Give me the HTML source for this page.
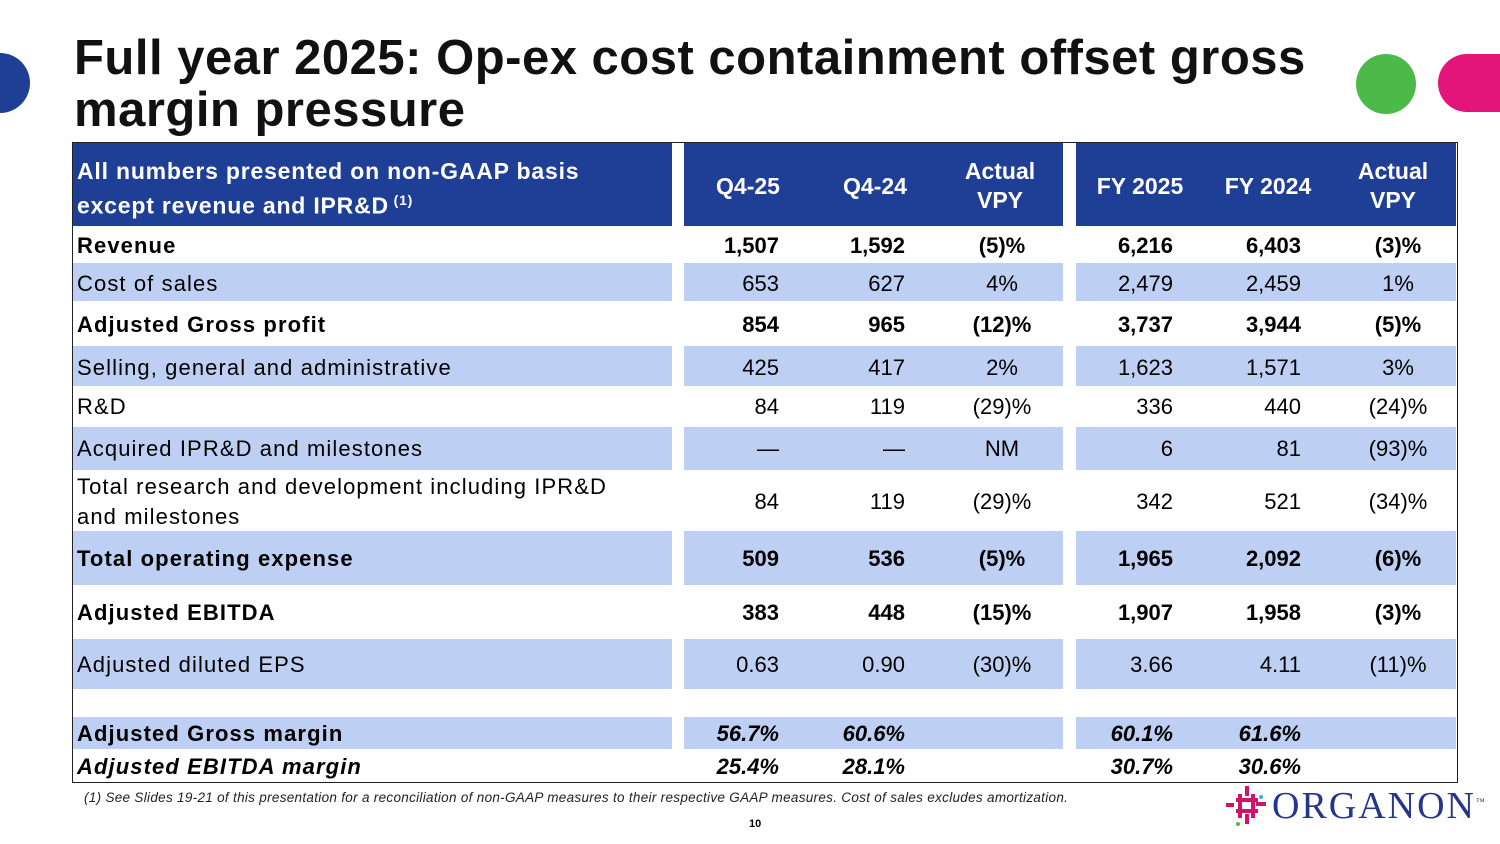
<!DOCTYPE html>
<html><head><meta charset="utf-8"><style>
body{margin:0;width:1500px;height:844px;background:#fff;position:relative;overflow:hidden;font-family:"Liberation Sans",Arial,sans-serif;color:#000}
.a{position:absolute}
.title{left:74px;top:32px;font-size:49px;font-weight:bold;line-height:52px;color:#111;letter-spacing:0.5px;white-space:nowrap}
.band{position:absolute;background:#bdd0f3}
.hdr{position:absolute;background:#1f3f96;top:143px;height:83px}
.h{position:absolute;color:#fff;font-weight:bold;font-size:23px;text-align:center;line-height:29px}
.c{position:absolute;font-size:22px;line-height:26px;white-space:nowrap;transform:translateY(-50%)}
.lbl{letter-spacing:1.1px}
.r{text-align:right}
.m{text-align:center;width:120px}
.b{font-weight:bold}
.i{font-style:italic;font-weight:bold}
</style></head><body>
<div class="a" style="left:-30px;top:53px;width:60px;height:60px;border-radius:50%;background:#1f3f96"></div>
<div class="a" style="left:1356px;top:54px;width:60px;height:60px;border-radius:50%;background:#4cba48"></div>
<div class="a" style="left:1438px;top:54px;width:100px;height:58px;border-radius:29px;background:#e3147a"></div>
<div class="a title">Full year 2025: Op-ex cost containment offset gross<br>margin pressure</div>

<div class="a" style="left:72px;top:142px;width:1384px;height:639px;border:1px solid #222"></div>
<div class="hdr" style="left:73px;width:599px"></div>
<div class="hdr" style="left:684px;width:379px"></div>
<div class="hdr" style="left:1076px;width:380px"></div>
<div class="h" style="left:77px;top:157px;text-align:left;letter-spacing:0.8px">All numbers presented on non-GAAP basis<br>except revenue and IPR&amp;D<sup style="font-size:14px"> (1)</sup></div>
<div class="h" style="left:688px;top:172px;width:120px">Q4-25</div>
<div class="h" style="left:815px;top:172px;width:120px">Q4-24</div>
<div class="h" style="left:940px;top:157px;width:120px">Actual<br>VPY</div>
<div class="h" style="left:1080px;top:172px;width:120px">FY 2025</div>
<div class="h" style="left:1208px;top:172px;width:120px">FY 2024</div>
<div class="h" style="left:1333px;top:157px;width:120px">Actual<br>VPY</div>

<div id="rows"></div>

<div class="a" style="left:84px;top:790px;font-size:13.5px;font-style:italic;color:#222;letter-spacing:0.3px;white-space:nowrap">(1) See Slides 19-21 of this presentation for a reconciliation of non-GAAP measures to their respective GAAP measures. Cost of sales excludes amortization.</div>
<div class="a" style="left:749px;top:818px;font-size:11px;font-weight:bold">10</div>

<div class="a" style="left:1226px;top:784px;width:270px;height:46px">
<svg width="44" height="44" style="position:absolute;left:0;top:0">
<g fill="#d0146c"><rect x="19" y="2" width="4" height="10"/><rect x="19" y="30" width="4" height="10"/><rect x="0" y="19" width="8" height="4"/><rect x="30" y="18" width="10" height="4"/><rect x="12" y="10" width="4" height="24"/><rect x="25" y="10" width="4" height="24"/><rect x="10" y="14" width="22" height="4"/><rect x="10" y="25" width="22" height="4"/></g>
<circle cx="35" cy="13" r="2" fill="#3ab0c8"/><circle cx="12" cy="40" r="2" fill="#4cba48"/></svg>
<div class="a" style="left:46px;top:0;font-family:'Liberation Serif',serif;font-size:38px;color:#25378a;letter-spacing:2px">ORGANON<sup style="font-size:9px">™</sup></div>
</div>

<script>
const labels=["Revenue","Cost of sales","Adjusted Gross profit","Selling, general and administrative","R&D","Acquired IPR&D and milestones","Total research and development including IPR&D<br>and milestones","Total operating expense","Adjusted EBITDA","Adjusted diluted EPS","Adjusted Gross margin","Adjusted EBITDA margin"];
const q425=["1,507","653","854","425","84","—","84","509","383","0.63","56.7%","25.4%"];
const q424=["1,592","627","965","417","119","—","119","536","448","0.90","60.6%","28.1%"];
const vpyQ=["(5)%","4%","(12)%","2%","(29)%","NM","(29)%","(5)%","(15)%","(30)%","",""];
const fy25=["6,216","2,479","3,737","1,623","336","6","342","1,965","1,907","3.66","60.1%","30.7%"];
const fy24=["6,403","2,459","3,944","1,571","440","81","521","2,092","1,958","4.11","61.6%","30.6%"];
const vpyF=["(3)%","1%","(5)%","3%","(24)%","(93)%","(34)%","(6)%","(3)%","(11)%","",""];
const styles=["b","","b","","","","","b","b","","b","i"];
const bands=[[227,263,0],[263,301,1],[301,346,0],[346,386,1],[386,427,0],[427,470,1],[470,531,0],[531,585,1],[585,639,0],[639,689,1],[717,749,1],[749,781,0]];
const ys=[246,284,325,368,407,449,502,559,613,665,734,767];
const host=document.getElementById('rows');
function add(html,cls,style){const d=document.createElement('div');d.className=cls;d.style.cssText=style;d.innerHTML=html;host.appendChild(d);return d;}
labels.forEach((lab,i)=>{
  const [t,bt,blue]=bands[i];
  if(blue){[[73,599],[684,379],[1076,380]].forEach(([x,w])=>{
    const b=add('','band',`left:${x}px;top:${t}px;width:${w}px;height:${bt-t}px`);
    
    
  });}
  const st=styles[i];const y=ys[i];
  const lbl=add(lab,'c lbl '+(st==='i'?'i':st),`left:77px;top:${y}px;${i==6?'line-height:30px':''}`);
  
  
  const numStyle=i>=10?'i':st;
  const cells=[[q425[i],779,'r'],[q424[i],905,'r'],[vpyQ[i],942,'m'],[fy25[i],1173,'r'],[fy24[i],1301,'r'],[vpyF[i],1338,'m']];
  cells.forEach(([v,x,al])=>{
    if(!v)return;
    const cls='c '+al+' '+numStyle;
    const s=al==='r'?`right:${1500-x}px;top:${y}px`:`left:${x}px;top:${y}px`;
    const c=add(v,cls,s);
    
    
  });
});
</script>
</body></html>
